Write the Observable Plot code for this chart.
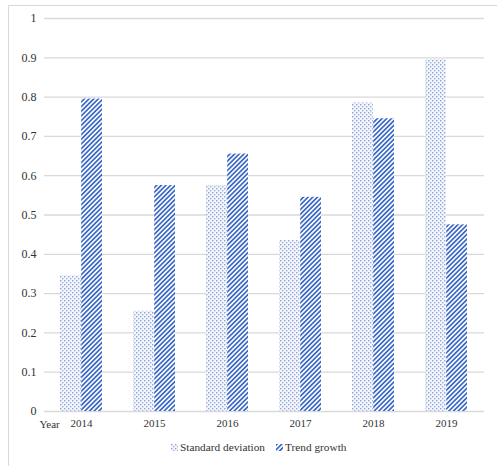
<!DOCTYPE html>
<html>
<head>
<meta charset="utf-8">
<script src="https://cdn.jsdelivr.net/npm/d3@7"></script>
<script src="https://cdn.jsdelivr.net/npm/@observablehq/plot@0.6"></script>
<style>
  html, body { margin: 0; padding: 0; background: #fff; }
  body { width: 497px; height: 466px; position: relative; overflow: hidden; font-family: "Liberation Serif", "DejaVu Serif", serif; }
  #frame { position: absolute; left: 8px; top: 5px; width: 520px; height: 490px; border: 1px solid #d9d9d9; box-sizing: border-box; pointer-events: none; }
  #chart { position: absolute; left: 0; top: 0; }
  #chart svg text { font-family: "Liberation Serif", "DejaVu Serif", serif; }
  #legend { position: absolute; left: 171px; top: 441px; font-size: 11.3px; color: #333; display: flex; align-items: center; white-space: nowrap; font-family: "Liberation Serif", "DejaVu Serif", serif; }
  #legend .item { display: flex; align-items: center; margin-right: 11px; }
  #legend svg { margin-right: 2px; }
</style>
</head>
<body>
<svg width="0" height="0" style="position:absolute">
  <defs>
    <pattern id="dots" patternUnits="userSpaceOnUse" width="4" height="4">
      <rect width="4" height="4" fill="#f4f6fb"></rect>
      <rect x="0" y="0" width="1.4" height="1.4" fill="#8ba5d8"></rect>
      <rect x="2" y="2" width="1.4" height="1.4" fill="#9bb1de"></rect>
    </pattern>
    <pattern id="stripes" patternUnits="userSpaceOnUse" width="3.3" height="3.3" patternTransform="rotate(45)">
      <rect width="3.3" height="3.3" fill="#ffffff"></rect>
      <rect x="0" y="0" width="1.7" height="3.3" fill="#3c68c6"></rect>
    </pattern>
  </defs>
</svg>
<div id="frame"></div>
<div id="chart"></div>
<div id="legend">
  <div class="item"><svg width="7" height="7"><rect width="7" height="7" fill="url(#dots)"></rect></svg><span>Standard deviation</span></div>
  <div class="item"><svg width="7" height="7"><rect width="7" height="7" fill="url(#stripes)"></rect></svg><span>Trend growth</span></div>
</div>
<script>
const years = ["2014", "2015", "2016", "2017", "2018", "2019"];
const standardDeviation = [0.345, 0.255, 0.575, 0.435, 0.785, 0.895];
const trendGrowth = [0.795, 0.575, 0.655, 0.545, 0.745, 0.475];
const yTicks = [0, 0.1, 0.2, 0.3, 0.4, 0.5, 0.6, 0.7, 0.8, 0.9, 1];

const data = years.map((year, i) => ({year, sd: standardDeviation[i], tg: trendGrowth[i]}));

const plot = Plot.plot({
  width: 497,
  height: 440,
  marginLeft: 44,
  marginRight: 13,
  marginTop: 18,
  marginBottom: 29,
  style: {fontFamily: "'Liberation Serif', 'DejaVu Serif', serif", background: "transparent", color: "#333"},
  x: {domain: years, paddingInner: 0.42, paddingOuter: 0.21, label: null},
  y: {domain: [0, 1], label: null},
  marks: [
    Plot.ruleY(yTicks, {stroke: "#d9d9d9", strokeWidth: 1.3}),
    Plot.barY(data, {x: "year", y: "sd", fill: "url(#dots)", insetRight: 21.2}),
    Plot.barY(data, {x: "year", y: "tg", fill: "url(#stripes)", insetLeft: 21.2}),
    Plot.axisX({tickSize: 0, tickPadding: 8, fontSize: 11, label: null}),
    Plot.axisY({ticks: yTicks, tickSize: 0, tickPadding: 8, fontSize: 12, label: null, tickFormat: d => String(+d.toFixed(1))}),
    Plot.text(["Year"], {frameAnchor: "bottom-left", dx: -5, dy: 13, textAnchor: "start", lineAnchor: "middle", fontSize: 11, fill: "#333"})
  ]
});
document.getElementById("chart").appendChild(plot);
</script>
</body>
</html>
